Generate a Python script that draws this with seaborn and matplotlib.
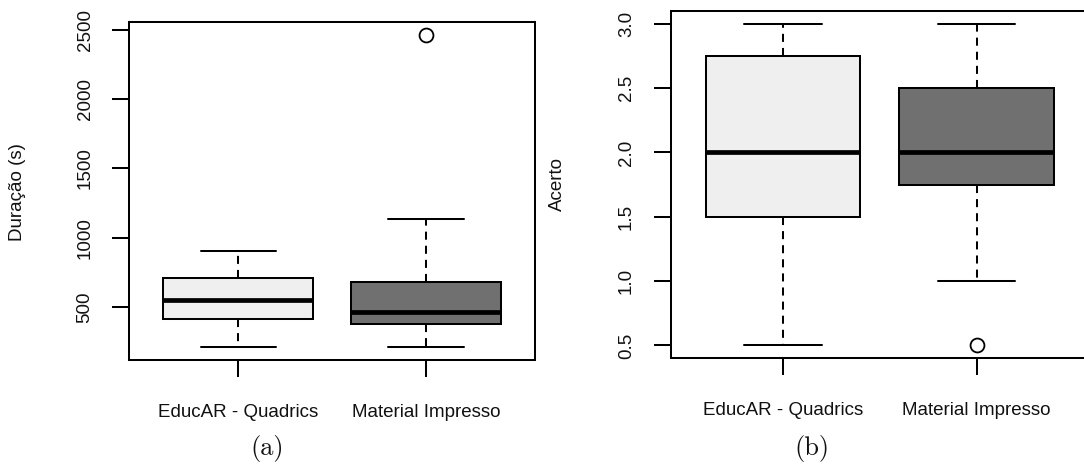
import numpy as np
import pandas as pd
import matplotlib
matplotlib.use("Agg")
import matplotlib.pyplot as plt
import seaborn as sns

# groups (order on the x axis)
grupos = ["EducAR - Quadrics", "Material Impresso"]

# samples (whiskers, quartiles, median, outliers)
duracao_educar = [217, 300, 416, 500, 553, 650, 713, 800, 903]
duracao_impresso = [211, 300, 379, 420, 469, 600, 683, 1134, 2462]
acerto_educar = [0.5, 1.0, 1.5, 2.0, 2.0, 2.5, 2.75, 3.0, 3.0]
acerto_impresso = [0.5, 1.0, 1.75, 2.0, 2.0, 2.0, 2.5, 3.0, 3.0]

duracao_ticks = [500, 1000, 1500, 2000, 2500]
acerto_ticks = [0.5, 1.0, 1.5, 2.0, 2.5, 3.0]

cores = {"EducAR - Quadrics": "#efefef", "Material Impresso": "#707070"}

sns.set_theme(style="ticks")
plt.rcParams["font.family"] = ["Liberation Sans", "DejaVu Sans"]

W, H = 1084, 472
LW = 1.45
FS = 13.5


def to_frame(a, b):
    return pd.DataFrame({
        "grupo": [grupos[0]] * len(a) + [grupos[1]] * len(b),
        "valor": list(a) + list(b),
    })


def draw_box(ax, df, ticks, fmt):
    sns.boxplot(
        data=df, x="grupo", y="valor", hue="grupo", order=grupos,
        palette=cores, saturation=1, legend=False, width=0.8, whis=1.5,
        linecolor="black", linewidth=LW, ax=ax,
        medianprops=dict(linewidth=3.4, color="black"),
        whiskerprops=dict(linestyle=(0, (4, 3)), linewidth=LW),
        capprops=dict(linewidth=LW),
        flierprops=dict(marker="o", markerfacecolor="none",
                        markeredgecolor="black", markersize=10,
                        markeredgewidth=1.3),
        capwidths=0.4,
    )
    vals = df["valor"].to_numpy()
    lo, hi = vals.min(), vals.max()
    pad = 0.04 * (hi - lo)
    ax.set_ylim(lo - pad, hi + pad)
    ax.set_xlim(-0.58, 1.58)
    ax.set_yticks(ticks)
    ax.set_yticklabels([fmt.format(t) for t in ticks])
    ax.set_xticks([0, 1])
    ax.set_xticklabels(grupos)
    ax.set_xlabel("")
    ax.set_ylabel("")
    for s in ax.spines.values():
        s.set_visible(True)
        s.set_color("black")
        s.set_linewidth(LW)
    ax.tick_params(axis="both", length=12.2, width=LW, color="black",
                   labelsize=FS, labelcolor="#111111", direction="out")
    ax.tick_params(axis="y", labelrotation=90, pad=13.5)
    ax.tick_params(axis="x", pad=19.5)
    for lab in ax.get_yticklabels():
        lab.set_va("center")
    ax.grid(False)


fig = plt.figure(figsize=(W / 100, H / 100), dpi=100)
fig.patch.set_facecolor("white")

ax_a = fig.add_axes([129.3 / W, (H - 360) / H, (535 - 129.3) / W, (360 - 22.3) / H])
ax_b = fig.add_axes([670.7 / W, (H - 358.3) / H, (1088.9 - 670.7) / W, (358.3 - 11) / H])

draw_box(ax_a, to_frame(duracao_educar, duracao_impresso), duracao_ticks, "{:.0f}")
draw_box(ax_b, to_frame(acerto_educar, acerto_impresso), acerto_ticks, "{:.1f}")

fig.text(18 / W, 1 - 192 / H, "Duração (s)", rotation=90, ha="center",
         va="center", fontsize=FS, color="#111111")
fig.text(557 / W, 1 - 184 / H, "Acerto", rotation=90, ha="center",
         va="center", fontsize=FS, color="#111111")

fig.text(267 / W, 1 - 449 / H, "(a)", family="cmr10", fontsize=19,
         ha="center", va="center", color="#111111")
fig.text(812 / W, 1 - 449 / H, "(b)", family="cmr10", fontsize=19,
         ha="center", va="center", color="#111111")

fig.savefig("out.png", dpi=100, facecolor="white")
